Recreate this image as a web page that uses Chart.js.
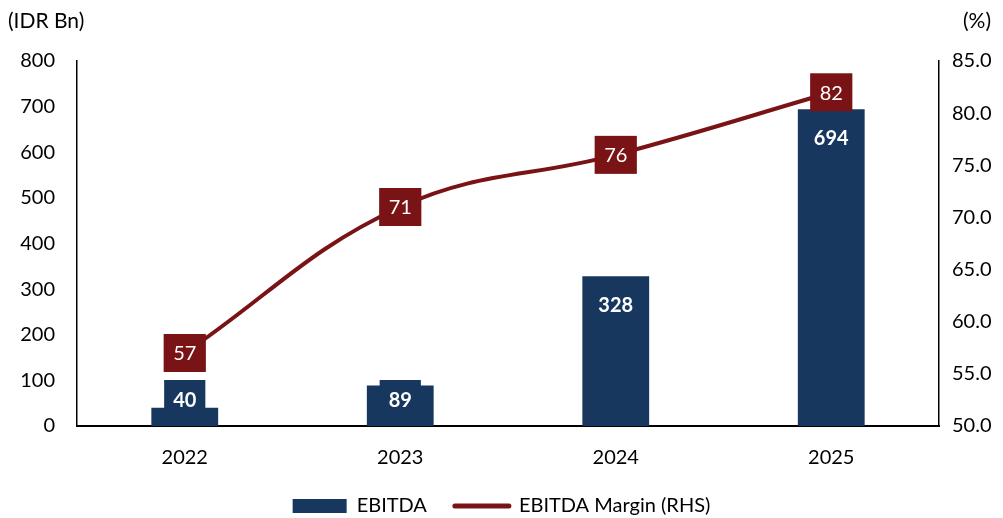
<!DOCTYPE html>
<html>
<head>
<meta charset="utf-8">
<script src="https://cdn.jsdelivr.net/npm/chart.js@4.4.1/dist/chart.umd.min.js"></script>
<style>
html, body { margin: 0; padding: 0; background: #fff; }
</style>
</head>
<body>
<canvas id="myChart" width="1003" height="518"></canvas>
<script>
var years = ['2022', '2023', '2024', '2025'];
var ebitda = [40, 89, 328, 694];
var margin = [57, 71, 76, 82];
var leftRange = [0, 800, 100];
var rightRange = [50, 85, 5];

var barColor = '#17375E';
var lineColor = '#7A1315';
var fontName = 'Lato, "Noto Sans", sans-serif';

// boxed value labels, like the excel ones
var boxLabels = {
    id: 'boxLabels',
    afterDatasetsDraw: function(chart) {
        var ctx = chart.ctx;
        var base = chart.scales.y.getPixelForValue(0);
        ctx.save();
        ctx.textAlign = 'center';
        ctx.textBaseline = 'middle';

        chart.getDatasetMeta(0).data.forEach(function(bar, i) {
            var txt = String(ebitda[i]);
            ctx.font = 'bold 20px ' + fontName;
            var w = ctx.measureText(txt).width + 18;
            var h = 40;
            var cy = Math.min(bar.y + 28, base - 26);
            ctx.fillStyle = barColor;
            ctx.fillRect(bar.x - w / 2, cy - h / 2, w, h);
            ctx.fillStyle = '#fff';
            ctx.fillText(txt, bar.x, cy + 1);
        });

        chart.getDatasetMeta(1).data.forEach(function(pt, i) {
            var txt = String(margin[i]);
            ctx.font = '20px ' + fontName;
            var w = ctx.measureText(txt).width + 19;
            var h = 38;
            ctx.fillStyle = lineColor;
            ctx.fillRect(pt.x - w / 2, pt.y - h / 2, w, h);
            ctx.fillStyle = '#fff';
            ctx.fillText(txt, pt.x, pt.y + 1);
        });

        // unit captions above both axes
        ctx.font = '21px ' + fontName;
        ctx.fillStyle = '#000';
        ctx.textAlign = 'left';
        ctx.fillText('(IDR Bn)', 8, 21);
        ctx.fillText('(%)', 963, 21);
        ctx.restore();
    }
};

var ctx = document.getElementById('myChart').getContext('2d');
var chart = new Chart(ctx, {
    type: 'bar',
    data: {
        labels: years,
        datasets: [{
            type: 'bar',
            label: 'EBITDA',
            data: ebitda,
            backgroundColor: barColor,
            borderWidth: 0,
            barPercentage: 0.31,
            categoryPercentage: 1,
            yAxisID: 'y',
            order: 2
        }, {
            type: 'line',
            label: 'EBITDA Margin (RHS)',
            data: margin,
            borderColor: lineColor,
            backgroundColor: lineColor,
            borderWidth: 4,
            tension: 0.4,
            pointRadius: 0,
            yAxisID: 'y1',
            order: 1
        }]
    },
    options: {
        responsive: false,
        animation: false,
        layout: { padding: { top: 61, left: 0, right: 0, bottom: -8 } },
        plugins: {
            tooltip: { enabled: false },
            legend: {
                position: 'bottom',
                labels: {
                    color: '#000',
                    font: { family: fontName, size: 20 },
                    usePointStyle: true,
                    pointStyleWidth: 54,
                    boxHeight: 14,
                    padding: 28,
                    generateLabels: function(chart) {
                        var ds = chart.data.datasets;
                        return [
                            { text: ds[0].label, fillStyle: barColor, strokeStyle: barColor, lineWidth: 0, pointStyle: 'rect', datasetIndex: 0, fontColor: '#000' },
                            { text: ds[1].label, fillStyle: lineColor, strokeStyle: lineColor, lineWidth: 5, lineCap: 'round', pointStyle: 'line', datasetIndex: 1, fontColor: '#000' }
                        ];
                    }
                }
            }
        },
        scales: {
            x: {
                grid: { display: false },
                border: { color: '#000', width: 2 },
                ticks: { color: '#000', font: { family: fontName, size: 20 }, padding: 12 },
                afterFit: function(s) { s.height = 42; }
            },
            y: {
                position: 'left',
                min: leftRange[0],
                max: leftRange[1],
                ticks: { stepSize: leftRange[2], color: '#000', font: { family: fontName, size: 20 }, padding: 22 },
                grid: { display: false, drawTicks: false },
                border: { color: '#000', width: 1.5 },
                afterFit: function(s) { s.width = 77; }
            },
            y1: {
                position: 'right',
                min: rightRange[0],
                max: rightRange[1],
                ticks: {
                    stepSize: rightRange[2],
                    color: '#000',
                    font: { family: fontName, size: 20 },
                    padding: 13,
                    callback: function(v) { return v.toFixed(1); }
                },
                grid: { display: false, drawTicks: false },
                border: { color: '#000', width: 1.5 },
                afterFit: function(s) { s.width = 64; }
            }
        }
    },
    plugins: [boxLabels]
});
</script>
</body>
</html>
